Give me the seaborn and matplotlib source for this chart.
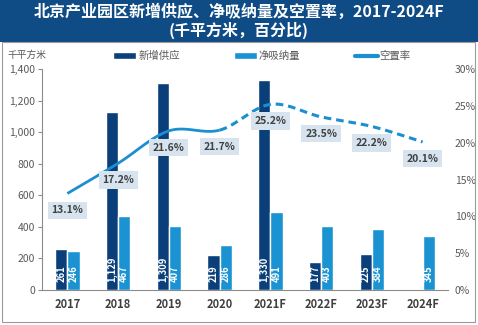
import numpy as np
import pandas as pd
import matplotlib
matplotlib.use("Agg")
import matplotlib.pyplot as plt
from matplotlib.lines import Line2D
from matplotlib.patches import Patch, Rectangle
import seaborn as sns

# ---- data ----
years = ["2017", "2018", "2019", "2020", "2021F", "2022F", "2023F", "2024F"]
new_supply = [261, 1129, 1309, 219, 1330, 177, 225, np.nan]
net_absorption = [246, 467, 407, 286, 491, 403, 384, 345]
vacancy = [13.1, 17.2, 21.6, 21.7, 25.2, 23.5, 22.2, 20.1]

supply_name = "新增供应"
absorb_name = "净吸纳量"
vacancy_name = "空置率"
unit_label = "千平方米"
title_text = "北京产业园区新增供应、净吸纳量及空置率，2017-2024F\n(千平方米，百分比)"

DARK = "#0A3F7A"
LIGHT = "#1B93D2"
LINE = "#1B8FD0"
BANNER = "#0F4C85"
BOX = "#D7E4F0"
GREY_TXT = "#595959"

sns.set_theme(style="white")
plt.rcParams["font.family"] = ["Noto Sans CJK SC", "DejaVu Sans"]

df = pd.DataFrame({
    "year": years * 2,
    "series": [supply_name] * len(years) + [absorb_name] * len(years),
    "value": list(new_supply) + list(net_absorption),
})

fig = plt.figure(figsize=(4.78, 3.25), dpi=100)
W, H = 478, 325

# title banner and outer frame
fig.patches.append(Rectangle((0, 1 - 42 / H), 1, 42 / H, transform=fig.transFigure,
                             facecolor=BANNER, edgecolor="none", zorder=0))
fig.patches.append(Rectangle((2 / W, 1 - 322 / H), 473 / W, 280 / H, transform=fig.transFigure,
                             facecolor="none", edgecolor="#9A9A9A", lw=0.8, zorder=0))
fig.text(0.5, 1 - 21 / H, title_text, ha="center", va="center", color="white",
         fontsize=11.5, fontweight="bold", linespacing=1.15)

ax = fig.add_axes([42 / W, 1 - 290 / H, (448 - 42) / W, (290 - 69) / H])
sns.barplot(data=df, x="year", y="value", hue="series", palette=[DARK, LIGHT],
            width=0.48, gap=0, saturation=1, ax=ax, legend=False)

ax.set_ylim(0, 1400)
ax.set_xlim(-0.5, len(years) - 0.5)
ax.set_yticks(range(0, 1401, 200))
ax.set_yticklabels([f"{v:,}" for v in range(0, 1401, 200)], color=GREY_TXT, fontsize=7.5)
ax.set_xticks(range(len(years)))
ax.set_xticklabels(years, fontsize=8, fontweight="bold", color="#404040")
ax.set_xlabel("")
ax.set_ylabel("")
ax.tick_params(axis="y", which="both", left=True, length=3, width=0.8, color="#8C8C8C", pad=2)
ax.tick_params(axis="x", length=0, pad=6)
for side in ["top", "right"]:
    ax.spines[side].set_visible(False)
ax.spines["left"].set_color("#8C8C8C")
ax.spines["bottom"].set_color("#8C8C8C")
ax.spines["left"].set_linewidth(0.8)
ax.spines["bottom"].set_linewidth(0.8)

# value labels inside the bars
for i, (s, a) in enumerate(zip(new_supply, net_absorption)):
    for val, dx in ((s, -0.12), (a, 0.12)):
        if np.isnan(val):
            continue
        ax.annotate(f"{int(val):,}", (i + dx, 0), xytext=(0, 6), textcoords="offset points",
                    rotation=90, ha="center", va="bottom", color="white",
                    fontsize=6.8, fontweight="bold")

# vacancy rate on the secondary axis, smoothed curve
ax2 = ax.twinx()
ax2.set_ylim(0, 0.30)
ax2.set_yticks(np.arange(0, 0.31, 0.05))
ax2.set_yticklabels([f"{int(round(t * 100))}%" for t in np.arange(0, 0.31, 0.05)],
                    color=GREY_TXT, fontsize=7.5)
ax2.tick_params(axis="y", length=0, pad=5)
for side in ["top", "right", "left", "bottom"]:
    ax2.spines[side].set_visible(False)

xs = np.arange(len(vacancy), dtype=float)
ys = np.array(vacancy) / 100.0
P = np.column_stack([xs, ys])
Pext = np.vstack([P[0], P, P[-1]])


def segment(i, n=40):
    p0, p1, p2, p3 = Pext[i], Pext[i + 1], Pext[i + 2], Pext[i + 3]
    c1 = p1 + (p2 - p0) / 6.0
    c2 = p2 - (p3 - p1) / 6.0
    t = np.linspace(0, 1, n)[:, None]
    return ((1 - t) ** 3) * p1 + 3 * ((1 - t) ** 2) * t * c1 + 3 * (1 - t) * t ** 2 * c2 + t ** 3 * p2


solid = np.vstack([segment(i) for i in range(0, 3)])
dashed = np.vstack([segment(i) for i in range(3, len(vacancy) - 1)])
ax2.plot(solid[:, 0], solid[:, 1], color=LINE, lw=2.0, solid_capstyle="butt")
ax2.plot(dashed[:, 0], dashed[:, 1], color=LINE, lw=2.2, linestyle=(0, (2.5, 1.6)))

for x, v in zip(xs, vacancy):
    ax2.annotate(f"{v:.1f}%", (x, v / 100.0), xytext=(0, -12), textcoords="offset points",
                 ha="center", va="center", fontsize=7.5, fontweight="bold", color="#404040",
                 bbox=dict(boxstyle="square,pad=0.35", facecolor=BOX, edgecolor="none"))

# legend and unit label
handles = [Patch(facecolor=DARK, label=supply_name),
           Patch(facecolor=LIGHT, label=absorb_name),
           Line2D([0], [0], color=LINE, lw=3, solid_capstyle="round", label=vacancy_name)]
fig.legend(handles=handles, loc="center", bbox_to_anchor=(262 / W, 1 - 56 / H), ncol=3,
           frameon=False, fontsize=7.5, handlelength=2.2, handleheight=0.6,
           handletextpad=0.2, columnspacing=5.2, labelcolor=GREY_TXT)
fig.text(8 / W, 1 - 55 / H, unit_label, ha="left", va="center", fontsize=7, color=GREY_TXT)

fig.savefig("out.png", dpi=100)
